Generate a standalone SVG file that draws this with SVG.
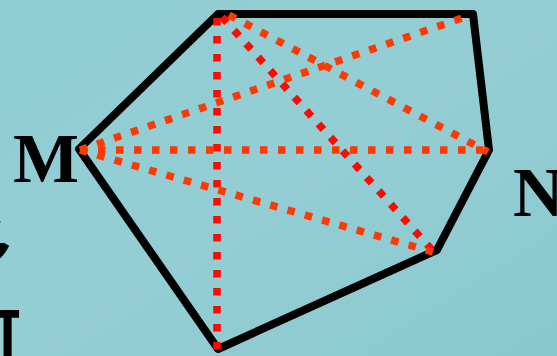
<svg xmlns="http://www.w3.org/2000/svg" width="557" height="356" viewBox="0 0 557 356">
  <defs>
    <linearGradient id="bg" x1="0" y1="0" x2="1" y2="1">
      <stop offset="0" stop-color="#8fcdd3"/>
      <stop offset="0.5" stop-color="#94ced4"/>
      <stop offset="1" stop-color="#8ac8cf"/>
    </linearGradient>
    <style>
      .edge{fill:none;stroke:#000;stroke-width:8;stroke-linejoin:round}
      .dr{fill:none;stroke:#ff0a00;stroke-width:7.5;stroke-dasharray:7.5 10.5}
      .do{fill:none;stroke:#ff3a00;stroke-width:7.5;stroke-dasharray:7.5 10.5}
      .lbl{font-family:"Liberation Serif","Times New Roman",serif;font-weight:bold;fill:#000}
      .cjk{font-family:"Noto Sans CJK SC",sans-serif;font-weight:bold;fill:#000}
    </style>
  </defs>
  <rect width="557" height="356" fill="url(#bg)"/>
  <g id="fragments">
    <text class="cjk" x="-52" y="268" font-size="64">多</text>
    <text class="cjk" x="-42" y="360" font-size="64">可</text>
  </g>
  <g id="polygon">
    <polygon class="edge" points="218,14 473,14 489,150 437,250 218,349 79,149"/>
  </g>
  <g id="connectors">
    <line class="dr" x1="217" y1="18" x2="217" y2="350"/>
    <line class="dr" x1="222" y1="17" x2="433" y2="251"/>
    <line class="do" x1="80" y1="150" x2="471" y2="15"/>
    <line class="do" x1="80" y1="150" x2="489" y2="150"/>
    <line class="do" x1="80" y1="150" x2="433" y2="252"/>
    <line class="do" x1="229" y1="15" x2="488" y2="152"/>
  </g>
  <g id="label-M"><text class="lbl" x="13" y="182" font-size="70">M</text></g>
  <g id="label-N"><text class="lbl" x="513" y="216" font-size="70">N</text></g>
</svg>
